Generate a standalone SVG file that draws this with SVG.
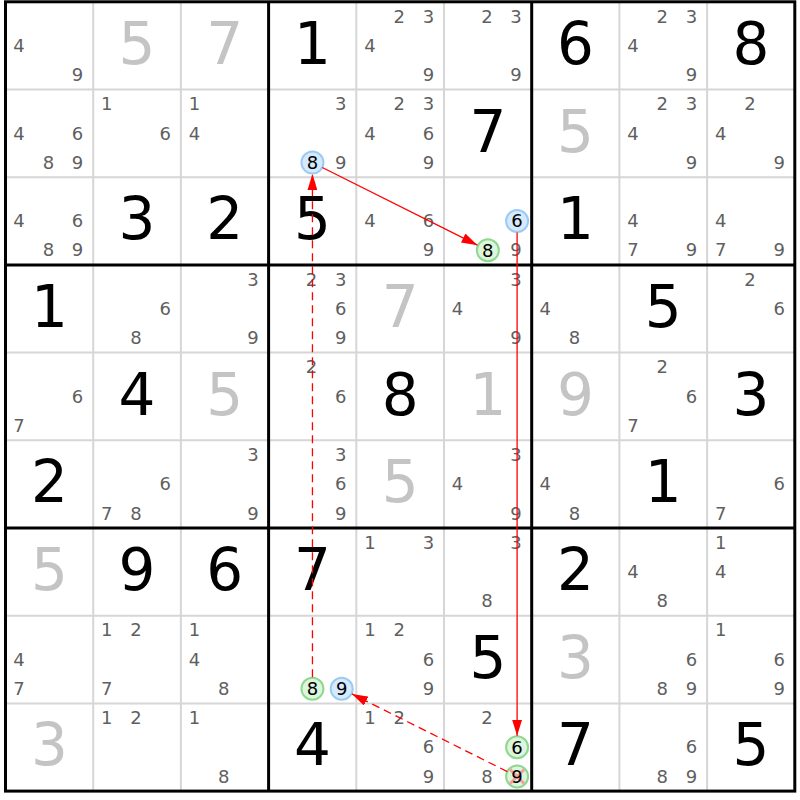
<svg xmlns="http://www.w3.org/2000/svg" width="800" height="800" viewBox="0 0 800 800">
<defs>
<style>
text{font-family:"DejaVu Sans","Liberation Sans",sans-serif;text-anchor:middle}
.c{font-size:18px;fill:#5f5f5f}
.g{font-size:58px;fill:#000}
.h{font-size:58px;fill:#c4c4c4}
.k{font-size:18px;fill:#000}
.thin{stroke:#d6d6d6;stroke-width:2}
.thick{stroke:#000;stroke-width:3}
.blue{fill:#d6eaff;stroke:#9ccaf2;stroke-width:2}
.green{fill:#dcf5dc;stroke:#8fd88f;stroke-width:2}
.arr{stroke:#f00;stroke-width:1.3;fill:none}
.dash{stroke-dasharray:8,5}
</style>
<marker id="ah" markerUnits="userSpaceOnUse" markerWidth="16" markerHeight="10" refX="16" refY="5" orient="auto"><path d="M0,0 L16,5 L0,10 Z" fill="#f00"/></marker>
</defs>
<rect x="0" y="0" width="800" height="800" fill="#fff"/>
<g id="grid">
<path class="thin" d="M93.2,1.8V791.1M180.9,1.8V791.1M356.3,1.8V791.1M444,1.8V791.1M619.4,1.8V791.1M707.1,1.8V791.1M5.5,89.5H794.8M5.5,177.2H794.8M5.5,352.6H794.8M5.5,440.3H794.8M5.5,615.7H794.8M5.5,703.4H794.8"/>
<path class="thick" d="M268.6,1.8V791.1M531.7,1.8V791.1M5.5,264.9H794.8M5.5,528H794.8"/>
<rect class="thick" x="5.5" y="1.8" width="789.3" height="789.3" fill="none"/>
</g>
<!-- row 0 -->
<g id="r0c0" transform="translate(5.5,1.8)"><text class="c" x="13.6" y="50">4</text><text class="c" x="72.1" y="79.3">9</text></g>
<g id="r0c1" transform="translate(93.2,1.8)"><text class="h" x="43.85" y="62">5</text></g>
<g id="r0c2" transform="translate(180.9,1.8)"><text class="h" x="43.85" y="62">7</text></g>
<g id="r0c3" transform="translate(268.6,1.8)"><text class="g" x="43.85" y="62">1</text></g>
<g id="r0c4" transform="translate(356.3,1.8)"><text class="c" x="42.9" y="20.8">2</text><text class="c" x="72.1" y="20.8">3</text><text class="c" x="13.6" y="50">4</text><text class="c" x="72.1" y="79.3">9</text></g>
<g id="r0c5" transform="translate(444,1.8)"><text class="c" x="42.9" y="20.8">2</text><text class="c" x="72.1" y="20.8">3</text><text class="c" x="72.1" y="79.3">9</text></g>
<g id="r0c6" transform="translate(531.7,1.8)"><text class="g" x="43.85" y="62">6</text></g>
<g id="r0c7" transform="translate(619.4,1.8)"><text class="c" x="42.9" y="20.8">2</text><text class="c" x="72.1" y="20.8">3</text><text class="c" x="13.6" y="50">4</text><text class="c" x="72.1" y="79.3">9</text></g>
<g id="r0c8" transform="translate(707.1,1.8)"><text class="g" x="43.85" y="62">8</text></g>
<!-- row 1 -->
<g id="r1c0" transform="translate(5.5,89.5)"><text class="c" x="13.6" y="50">4</text><text class="c" x="72.1" y="50">6</text><text class="c" x="42.9" y="79.3">8</text><text class="c" x="72.1" y="79.3">9</text></g>
<g id="r1c1" transform="translate(93.2,89.5)"><text class="c" x="13.6" y="20.8">1</text><text class="c" x="72.1" y="50">6</text></g>
<g id="r1c2" transform="translate(180.9,89.5)"><text class="c" x="13.6" y="20.8">1</text><text class="c" x="13.6" y="50">4</text></g>
<g id="r1c3" transform="translate(268.6,89.5)"><text class="c" x="72.1" y="20.8">3</text><circle class="blue" cx="43.85" cy="73.1" r="11"/><text class="k" x="43.85" y="79.5">8</text><text class="c" x="72.1" y="79.3">9</text></g>
<g id="r1c4" transform="translate(356.3,89.5)"><text class="c" x="42.9" y="20.8">2</text><text class="c" x="72.1" y="20.8">3</text><text class="c" x="13.6" y="50">4</text><text class="c" x="72.1" y="50">6</text><text class="c" x="72.1" y="79.3">9</text></g>
<g id="r1c5" transform="translate(444,89.5)"><text class="g" x="43.85" y="62">7</text></g>
<g id="r1c6" transform="translate(531.7,89.5)"><text class="h" x="43.85" y="62">5</text></g>
<g id="r1c7" transform="translate(619.4,89.5)"><text class="c" x="42.9" y="20.8">2</text><text class="c" x="72.1" y="20.8">3</text><text class="c" x="13.6" y="50">4</text><text class="c" x="72.1" y="79.3">9</text></g>
<g id="r1c8" transform="translate(707.1,89.5)"><text class="c" x="42.9" y="20.8">2</text><text class="c" x="13.6" y="50">4</text><text class="c" x="72.1" y="79.3">9</text></g>
<!-- row 2 -->
<g id="r2c0" transform="translate(5.5,177.2)"><text class="c" x="13.6" y="50">4</text><text class="c" x="72.1" y="50">6</text><text class="c" x="42.9" y="79.3">8</text><text class="c" x="72.1" y="79.3">9</text></g>
<g id="r2c1" transform="translate(93.2,177.2)"><text class="g" x="43.85" y="62">3</text></g>
<g id="r2c2" transform="translate(180.9,177.2)"><text class="g" x="43.85" y="62">2</text></g>
<g id="r2c3" transform="translate(268.6,177.2)"><text class="g" x="43.85" y="62">5</text></g>
<g id="r2c4" transform="translate(356.3,177.2)"><text class="c" x="13.6" y="50">4</text><text class="c" x="72.1" y="50">6</text><text class="c" x="72.1" y="79.3">9</text></g>
<g id="r2c5" transform="translate(444,177.2)"><circle class="blue" cx="73.1" cy="43.85" r="11"/><text class="k" x="73.1" y="50.2">6</text><circle class="green" cx="43.85" cy="73.1" r="11"/><text class="k" x="43.85" y="79.5">8</text><text class="c" x="72.1" y="79.3">9</text></g>
<g id="r2c6" transform="translate(531.7,177.2)"><text class="g" x="43.85" y="62">1</text></g>
<g id="r2c7" transform="translate(619.4,177.2)"><text class="c" x="13.6" y="50">4</text><text class="c" x="13.6" y="79.3">7</text><text class="c" x="72.1" y="79.3">9</text></g>
<g id="r2c8" transform="translate(707.1,177.2)"><text class="c" x="13.6" y="50">4</text><text class="c" x="13.6" y="79.3">7</text><text class="c" x="72.1" y="79.3">9</text></g>
<!-- row 3 -->
<g id="r3c0" transform="translate(5.5,264.9)"><text class="g" x="43.85" y="62">1</text></g>
<g id="r3c1" transform="translate(93.2,264.9)"><text class="c" x="72.1" y="50">6</text><text class="c" x="42.9" y="79.3">8</text></g>
<g id="r3c2" transform="translate(180.9,264.9)"><text class="c" x="72.1" y="20.8">3</text><text class="c" x="72.1" y="79.3">9</text></g>
<g id="r3c3" transform="translate(268.6,264.9)"><text class="c" x="42.9" y="20.8">2</text><text class="c" x="72.1" y="20.8">3</text><text class="c" x="72.1" y="50">6</text><text class="c" x="72.1" y="79.3">9</text></g>
<g id="r3c4" transform="translate(356.3,264.9)"><text class="h" x="43.85" y="62">7</text></g>
<g id="r3c5" transform="translate(444,264.9)"><text class="c" x="72.1" y="20.8">3</text><text class="c" x="13.6" y="50">4</text><text class="c" x="72.1" y="79.3">9</text></g>
<g id="r3c6" transform="translate(531.7,264.9)"><text class="c" x="13.6" y="50">4</text><text class="c" x="42.9" y="79.3">8</text></g>
<g id="r3c7" transform="translate(619.4,264.9)"><text class="g" x="43.85" y="62">5</text></g>
<g id="r3c8" transform="translate(707.1,264.9)"><text class="c" x="42.9" y="20.8">2</text><text class="c" x="72.1" y="50">6</text></g>
<!-- row 4 -->
<g id="r4c0" transform="translate(5.5,352.6)"><text class="c" x="72.1" y="50">6</text><text class="c" x="13.6" y="79.3">7</text></g>
<g id="r4c1" transform="translate(93.2,352.6)"><text class="g" x="43.85" y="62">4</text></g>
<g id="r4c2" transform="translate(180.9,352.6)"><text class="h" x="43.85" y="62">5</text></g>
<g id="r4c3" transform="translate(268.6,352.6)"><text class="c" x="42.9" y="20.8">2</text><text class="c" x="72.1" y="50">6</text></g>
<g id="r4c4" transform="translate(356.3,352.6)"><text class="g" x="43.85" y="62">8</text></g>
<g id="r4c5" transform="translate(444,352.6)"><text class="h" x="43.85" y="62">1</text></g>
<g id="r4c6" transform="translate(531.7,352.6)"><text class="h" x="43.85" y="62">9</text></g>
<g id="r4c7" transform="translate(619.4,352.6)"><text class="c" x="42.9" y="20.8">2</text><text class="c" x="72.1" y="50">6</text><text class="c" x="13.6" y="79.3">7</text></g>
<g id="r4c8" transform="translate(707.1,352.6)"><text class="g" x="43.85" y="62">3</text></g>
<!-- row 5 -->
<g id="r5c0" transform="translate(5.5,440.3)"><text class="g" x="43.85" y="62">2</text></g>
<g id="r5c1" transform="translate(93.2,440.3)"><text class="c" x="72.1" y="50">6</text><text class="c" x="13.6" y="79.3">7</text><text class="c" x="42.9" y="79.3">8</text></g>
<g id="r5c2" transform="translate(180.9,440.3)"><text class="c" x="72.1" y="20.8">3</text><text class="c" x="72.1" y="79.3">9</text></g>
<g id="r5c3" transform="translate(268.6,440.3)"><text class="c" x="72.1" y="20.8">3</text><text class="c" x="72.1" y="50">6</text><text class="c" x="72.1" y="79.3">9</text></g>
<g id="r5c4" transform="translate(356.3,440.3)"><text class="h" x="43.85" y="62">5</text></g>
<g id="r5c5" transform="translate(444,440.3)"><text class="c" x="72.1" y="20.8">3</text><text class="c" x="13.6" y="50">4</text><text class="c" x="72.1" y="79.3">9</text></g>
<g id="r5c6" transform="translate(531.7,440.3)"><text class="c" x="13.6" y="50">4</text><text class="c" x="42.9" y="79.3">8</text></g>
<g id="r5c7" transform="translate(619.4,440.3)"><text class="g" x="43.85" y="62">1</text></g>
<g id="r5c8" transform="translate(707.1,440.3)"><text class="c" x="72.1" y="50">6</text><text class="c" x="13.6" y="79.3">7</text></g>
<!-- row 6 -->
<g id="r6c0" transform="translate(5.5,528)"><text class="h" x="43.85" y="62">5</text></g>
<g id="r6c1" transform="translate(93.2,528)"><text class="g" x="43.85" y="62">9</text></g>
<g id="r6c2" transform="translate(180.9,528)"><text class="g" x="43.85" y="62">6</text></g>
<g id="r6c3" transform="translate(268.6,528)"><text class="g" x="43.85" y="62">7</text></g>
<g id="r6c4" transform="translate(356.3,528)"><text class="c" x="13.6" y="20.8">1</text><text class="c" x="72.1" y="20.8">3</text></g>
<g id="r6c5" transform="translate(444,528)"><text class="c" x="72.1" y="20.8">3</text><text class="c" x="42.9" y="79.3">8</text></g>
<g id="r6c6" transform="translate(531.7,528)"><text class="g" x="43.85" y="62">2</text></g>
<g id="r6c7" transform="translate(619.4,528)"><text class="c" x="13.6" y="50">4</text><text class="c" x="42.9" y="79.3">8</text></g>
<g id="r6c8" transform="translate(707.1,528)"><text class="c" x="13.6" y="20.8">1</text><text class="c" x="13.6" y="50">4</text></g>
<!-- row 7 -->
<g id="r7c0" transform="translate(5.5,615.7)"><text class="c" x="13.6" y="50">4</text><text class="c" x="13.6" y="79.3">7</text></g>
<g id="r7c1" transform="translate(93.2,615.7)"><text class="c" x="13.6" y="20.8">1</text><text class="c" x="42.9" y="20.8">2</text><text class="c" x="13.6" y="79.3">7</text></g>
<g id="r7c2" transform="translate(180.9,615.7)"><text class="c" x="13.6" y="20.8">1</text><text class="c" x="13.6" y="50">4</text><text class="c" x="42.9" y="79.3">8</text></g>
<g id="r7c3" transform="translate(268.6,615.7)"><circle class="green" cx="43.85" cy="73.1" r="11"/><text class="k" x="43.85" y="79.5">8</text><circle class="blue" cx="73.1" cy="73.1" r="11"/><text class="k" x="73.1" y="79.5">9</text></g>
<g id="r7c4" transform="translate(356.3,615.7)"><text class="c" x="13.6" y="20.8">1</text><text class="c" x="42.9" y="20.8">2</text><text class="c" x="72.1" y="50">6</text><text class="c" x="72.1" y="79.3">9</text></g>
<g id="r7c5" transform="translate(444,615.7)"><text class="g" x="43.85" y="62">5</text></g>
<g id="r7c6" transform="translate(531.7,615.7)"><text class="h" x="43.85" y="62">3</text></g>
<g id="r7c7" transform="translate(619.4,615.7)"><text class="c" x="72.1" y="50">6</text><text class="c" x="42.9" y="79.3">8</text><text class="c" x="72.1" y="79.3">9</text></g>
<g id="r7c8" transform="translate(707.1,615.7)"><text class="c" x="13.6" y="20.8">1</text><text class="c" x="72.1" y="50">6</text><text class="c" x="72.1" y="79.3">9</text></g>
<!-- row 8 -->
<g id="r8c0" transform="translate(5.5,703.4)"><text class="h" x="43.85" y="62">3</text></g>
<g id="r8c1" transform="translate(93.2,703.4)"><text class="c" x="13.6" y="20.8">1</text><text class="c" x="42.9" y="20.8">2</text></g>
<g id="r8c2" transform="translate(180.9,703.4)"><text class="c" x="13.6" y="20.8">1</text><text class="c" x="42.9" y="79.3">8</text></g>
<g id="r8c3" transform="translate(268.6,703.4)"><text class="g" x="43.85" y="62">4</text></g>
<g id="r8c4" transform="translate(356.3,703.4)"><text class="c" x="13.6" y="20.8">1</text><text class="c" x="42.9" y="20.8">2</text><text class="c" x="72.1" y="50">6</text><text class="c" x="72.1" y="79.3">9</text></g>
<g id="r8c5" transform="translate(444,703.4)"><text class="c" x="42.9" y="20.8">2</text><circle class="green" cx="73.1" cy="43.85" r="11"/><text class="k" x="73.1" y="50.2">6</text><text class="c" x="42.9" y="79.3">8</text><circle class="green" cx="73.1" cy="73.1" r="11"/><path d="M66.1,66.1L80.1,80.1M80.1,66.1L66.1,80.1" stroke="#f4a0a0" stroke-width="3"/><text class="k" x="73.1" y="79.5">9</text></g>
<g id="r8c6" transform="translate(531.7,703.4)"><text class="g" x="43.85" y="62">7</text></g>
<g id="r8c7" transform="translate(619.4,703.4)"><text class="c" x="72.1" y="50">6</text><text class="c" x="42.9" y="79.3">8</text><text class="c" x="72.1" y="79.3">9</text></g>
<g id="r8c8" transform="translate(707.1,703.4)"><text class="g" x="43.85" y="62">5</text></g>
<g id="connectors">
<path class="arr" d="M322.3,167.5L477.5,245.2" marker-end="url(#ah)"/>
<path class="arr" d="M517.1,232.5L517.1,735.8" marker-end="url(#ah)"/>
<path class="arr dash" d="M507.3,771.6L351.9,693.9" marker-end="url(#ah)"/>
<path class="arr dash" d="M312.45,677.3L312.45,174.1" marker-end="url(#ah)"/>
</g>
</svg>
